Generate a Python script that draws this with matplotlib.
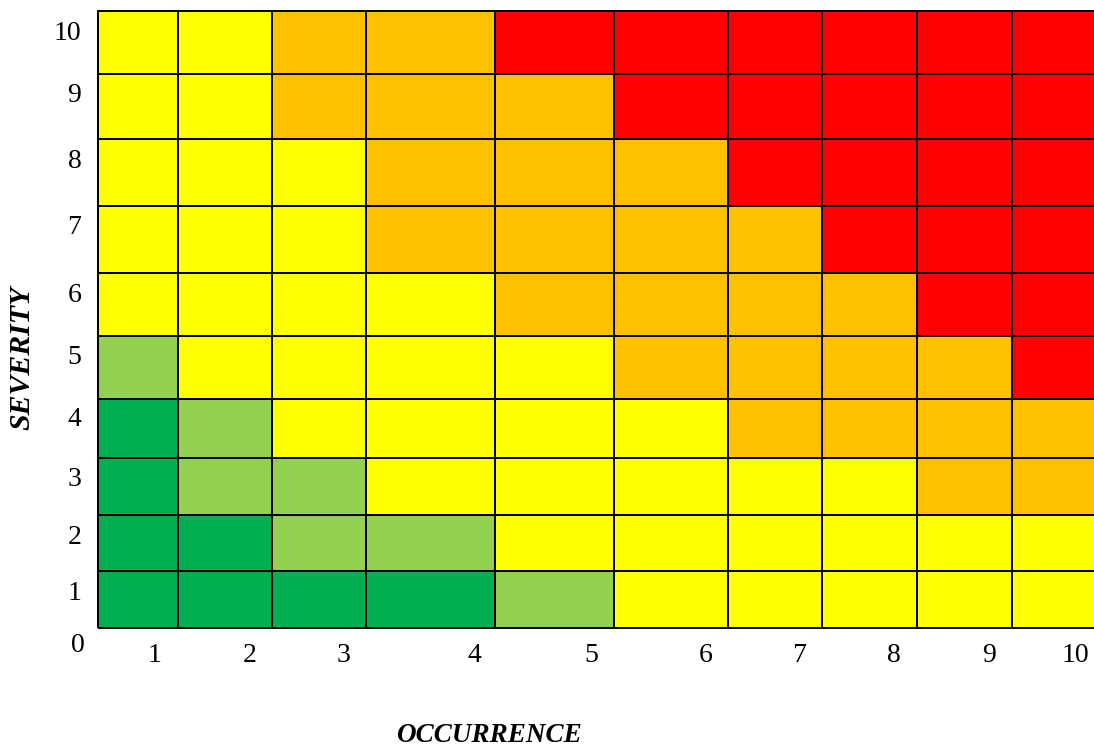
"""
risk matrix: severity vs occurrence, colour coded cells
"""
import numpy as np
import matplotlib
matplotlib.use("Agg")
import matplotlib.pyplot as plt
from matplotlib.colors import ListedColormap

### data ###
severity = [1, 2, 3, 4, 5, 6, 7, 8, 9, 10]
occurrence = [1, 2, 3, 4, 5, 6, 7, 8, 9, 10]
# risk level per cell: 0 green, 1 light green, 2 yellow, 3 orange, 4 red
# rows = severity 1..10 (bottom to top), cols = occurrence 1..10
risk = [
    [0, 0, 0, 0, 1, 2, 2, 2, 2, 2],
    [0, 0, 1, 1, 2, 2, 2, 2, 2, 2],
    [0, 1, 1, 2, 2, 2, 2, 2, 3, 3],
    [0, 1, 2, 2, 2, 2, 3, 3, 3, 3],
    [1, 2, 2, 2, 2, 3, 3, 3, 3, 4],
    [2, 2, 2, 2, 3, 3, 3, 3, 4, 4],
    [2, 2, 2, 3, 3, 3, 3, 4, 4, 4],
    [2, 2, 2, 3, 3, 3, 4, 4, 4, 4],
    [2, 2, 3, 3, 3, 4, 4, 4, 4, 4],
    [2, 2, 3, 3, 4, 4, 4, 4, 4, 4],
]
risk_colors = ["#00B050", "#92D050", "#FFFF00", "#FFC000", "#FF0000"]

### layout (cell sizes are not uniform in the original) ###
col_w = [80, 94, 94, 129, 119, 114, 94, 95, 95, 90]
row_h = [57, 56, 57, 59, 63, 63, 67, 67, 65, 63]
xtick_pos = [57, 152, 245, 376, 493, 608, 701, 796, 891, 977]
ytick_pos = [38, 94, 151, 211, 273, 335, 404, 470, 535, 598]

xedges = np.concatenate([[0], np.cumsum(col_w)])
yedges = np.concatenate([[0], np.cumsum(row_h)])

plt.rcParams["font.family"] = ["Liberation Serif", "DejaVu Serif"]

W, H = 1094, 749
fig = plt.figure(figsize=(W / 100, H / 100), dpi=100)
ax = fig.add_axes([98 / W, (H - 628) / H, 996 / W, 617 / H])

cmap = ListedColormap(risk_colors)
mesh = ax.pcolormesh(xedges, yedges, np.array(risk), cmap=cmap, vmin=-0.5, vmax=4.5,
                     edgecolors="black", linewidth=1.3)
mesh.set_clip_on(False)

ax.set_xlim(0, 996)
ax.set_ylim(0, 617)
for s in ax.spines.values():
    s.set_visible(False)

ax.set_xticks(xtick_pos, [str(v) for v in occurrence])
ax.set_yticks(ytick_pos, [str(v) for v in severity])
ax.tick_params(length=0, labelsize=20)
ax.tick_params(axis="x", pad=11)
ax.tick_params(axis="y", pad=12)
# zero label sits below the grid corner
ax.text(-13, -18, "0", fontsize=20, ha="right", va="center", clip_on=False)

fig.text(489 / W, 1 - 735 / H, "OCCURRENCE", fontsize=19.5, fontweight="bold",
         fontstyle="italic", ha="center", va="center")
fig.text(22 / W, 1 - 358 / H, "SEVERITY", fontsize=21.5, fontweight="bold",
         fontstyle="italic", rotation=90, ha="center", va="center")

fig.savefig("out.png", dpi=100)
